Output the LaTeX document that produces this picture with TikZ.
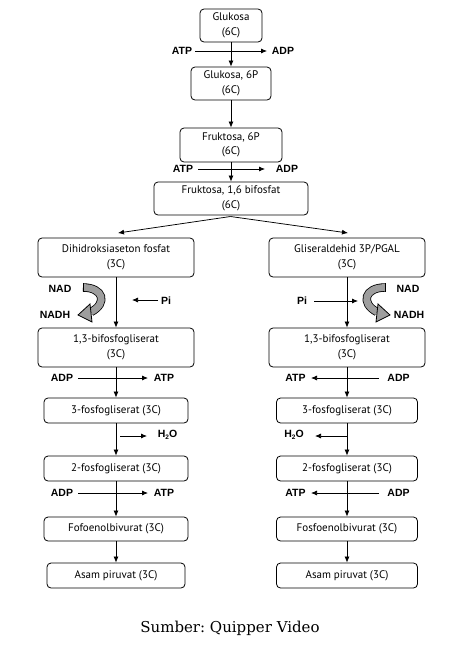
\documentclass[tikz,border=0pt]{standalone}
\usepackage{fontspec}
\setmainfont{PT Sans}
\newfontfamily\labfont{Liberation Sans}
\newfontfamily\capfont{DejaVu Serif}
\usetikzlibrary{arrows.meta}
\definecolor{arrgray}{gray}{0.62}
\frenchspacing
\begin{document}
\begin{tikzpicture}[x=1pt,y=-1pt,
  box/.style={draw, rounded corners=4pt, line width=0.8pt, align=center, inner sep=0pt,
    font=\fontsize{11}{14.5}\selectfont},
  lab/.style={font=\labfont\bfseries\fontsize{10.5}{12}\selectfont, inner sep=0pt},
  arr/.style={-{Latex[length=6pt,width=5pt]}, line width=0.75pt},
  band/.style={line width=8.4pt, line cap=butt},
  bandin/.style={line width=6.8pt, line cap=butt, draw=arrgray},
  head/.style={fill=arrgray, draw=black, line width=0.8pt, line join=miter}
]
\useasboundingbox (0,0) rectangle (457,651);

% top chain
\node[box, minimum width=62pt, minimum height=33pt] (glu) at (231,25.5) {Glukosa\\(6C)};
\node[box, minimum width=80pt, minimum height=33pt] (g6p) at (231,83.5) {Glukosa, 6P\\(6C)};
\node[box, minimum width=102pt, minimum height=34pt] (f6p) at (231,145) {Fruktosa, 6P\\(6C)};
\node[box, minimum width=154pt, minimum height=33pt] (f16) at (231,198.5) {Fruktosa, 1,6 bifosfat\\(6C)};

% left column
\node[box, minimum width=156pt, minimum height=39pt] (dhap) at (116,257.5) {Dihidroksiaseton fosfat\\(3C)};
\node[box, minimum width=156pt, minimum height=39pt] (bL) at (116,347.5) {1,3-bifosfogliserat\\(3C)};
\node[box, minimum width=144pt, minimum height=25pt] (p3L) at (116,410.5) {3-fosfogliserat (3C)};
\node[box, minimum width=144pt, minimum height=25pt] (p2L) at (116,468.5) {2-fosfogliserat (3C)};
\node[box, minimum width=144pt, minimum height=24pt] (pepL) at (116,529) {Fofoenolbivurat (3C)};
\node[box, minimum width=138pt, minimum height=25pt] (pyrL) at (116,575.5) {Asam piruvat (3C)};

% right column
\node[box, minimum width=156pt, minimum height=39pt] (gap) at (347,257.5) {Gliseraldehid 3P/PGAL\\(3C)};
\node[box, minimum width=156pt, minimum height=39pt] (bR) at (347,347.5) {1,3-bifosfogliserat\\(3C)};
\node[box, minimum width=141pt, minimum height=25pt] (p3R) at (347,410.5) {3-fosfogliserat (3C)};
\node[box, minimum width=141pt, minimum height=25pt] (p2R) at (347,468.5) {2-fosfogliserat (3C)};
\node[box, minimum width=141pt, minimum height=24pt] (pepR) at (347,529) {Fosfoenolbivurat (3C)};
\node[box, minimum width=141pt, minimum height=25pt] (pyrR) at (347,575.5) {Asam piruvat (3C)};

% vertical arrows
\draw[arr] (glu.south) -- (g6p.north);
\draw[arr] (g6p.south) -- (f6p.north);
\draw[arr] (f6p.south) -- (f16.north);
\foreach \a/\b in {dhap/bL, bL/p3L, p3L/p2L, p2L/pepL, pepL/pyrL,
                   gap/bR, bR/p3R, p3R/p2R, p2R/pepR, pepR/pyrR}
  \draw[arr] (\a.south) -- (\b.north);

% split
\coordinate (split) at (230.5,216.5);
\coordinate (toL) at (118,233);
\coordinate (toR) at (348,233);
\draw[arr] (split) -- (toL);
\draw[arr] (split) -- (toR);

% top side arrows
\node[lab] (atp1) at (182,51) {ATP};
\node[lab] (adp1) at (283,51) {ADP};
\coordinate (s1) at (195,51); \coordinate (e1) at (267,51);
\draw[arr] (s1) -- (e1);
\node[lab] (atp2) at (183,169) {ATP};
\node[lab] (adp2) at (287,169) {ADP};
\coordinate (s2) at (198,169); \coordinate (e2) at (265,169);
\draw[arr] (s2) -- (e2);

% Pi
\node[lab] (piL) at (166,301) {Pi};
\coordinate (piLs) at (158,300); \coordinate (piLe) at (132,300);
\draw[arr] (piLs) -- (piLe);
\node[lab] (piR) at (302,301) {Pi};
\coordinate (piRs) at (314,301); \coordinate (piRe) at (358,301);
\draw[arr] (piRs) -- (piRe);

% NAD labels
\node[lab] (nadL) at (60,289) {NAD};
\node[lab] (nadhL) at (55,315) {NADH};
\node[lab] (nadR) at (408,289) {NAD};
\node[lab] (nadhR) at (409,315) {NADH};

% gray curved arrows
\draw[band] (83,287.5) .. controls (103,287.5) and (108,303) .. (91,312);
\draw[bandin] (83,287.5) .. controls (103,287.5) and (108,303) .. (91,312);
\draw[line width=0.8pt] (83,283.3) -- (83,291.7);
\filldraw[head] (78,315) -- (90,304) -- (92,322) -- cycle;

\draw[band] (385,287.5) .. controls (365,287.5) and (360,303) .. (377,312);
\draw[bandin] (385,287.5) .. controls (365,287.5) and (360,303) .. (377,312);
\draw[line width=0.8pt] (385,283.3) -- (385,291.7);
\filldraw[head] (390,315) -- (378,304) -- (376,322) -- cycle;

% left ADP -> ATP
\node[lab] (adpL1) at (62,378) {ADP};
\node[lab] (atpL1) at (164,378) {ATP};
\coordinate (sL1) at (78,378); \coordinate (eL1) at (148,378);
\draw[arr] (sL1) -- (eL1);
\node[lab] (adpL2) at (62,493) {ADP};
\node[lab] (atpL2) at (164,493) {ATP};
\coordinate (sL2) at (78,493); \coordinate (eL2) at (148,493);
\draw[arr] (sL2) -- (eL2);

% right ADP -> ATP
\node[lab] (atpR1) at (295.5,378) {ATP};
\node[lab] (adpR1) at (398.5,378) {ADP};
\coordinate (sR1) at (379,378); \coordinate (eR1) at (311,378);
\draw[arr] (sR1) -- (eR1);
\node[lab] (atpR2) at (295.5,493) {ATP};
\node[lab] (adpR2) at (398.5,493) {ADP};
\coordinate (sR2) at (379,493); \coordinate (eR2) at (311,493);
\draw[arr] (sR2) -- (eR2);

% H2O
\node[lab] (h2oL) at (167.5,435) {H\raisebox{-2.5pt}{\fontsize{6.5}{7}\selectfont 2}O};
\coordinate (hLs) at (120,436); \coordinate (hLe) at (147,436);
\draw[arr] (hLs) -- (hLe);
\node[lab] (h2oR) at (294,435) {H\raisebox{-2.5pt}{\fontsize{6.5}{7}\selectfont 2}O};
\coordinate (hRs) at (347,436); \coordinate (hRe) at (315,436);
\draw[arr] (hRs) -- (hRe);

% caption
\node[font=\capfont\fontsize{15}{17}\selectfont, inner sep=0pt] (cap) at (230,628) {Sumber: Quipper Video};
\end{tikzpicture}
\end{document}
